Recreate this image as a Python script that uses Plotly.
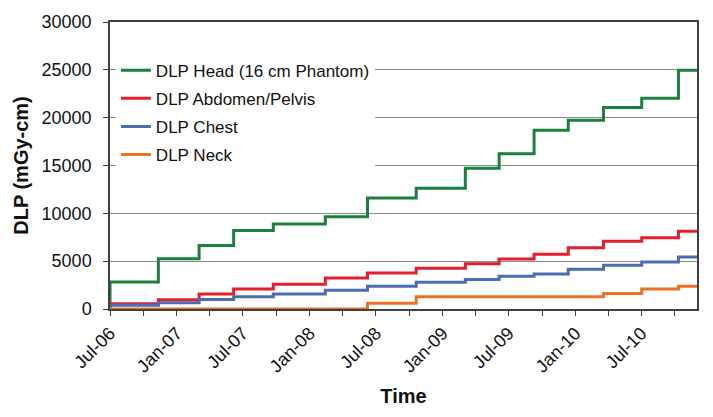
import plotly.graph_objects as go

# Step dates and cumulative DLP values per series
dates = ["2006-07-01", "2006-07-01", "2006-11-11", "2007-03-03", "2007-06-06",
         "2007-09-23", "2008-02-13", "2008-06-08", "2008-10-20", "2009-03-04",
         "2009-06-05", "2009-09-09", "2009-12-12", "2010-03-19", "2010-07-02",
         "2010-10-11", "2010-12-01"]

head = [0, 2830, 5260, 6640, 8200, 8890, 9650, 11600, 12630, 14700,
        16230, 18690, 19720, 21070, 22040, 24950, 24950]
abdomen = [0, 550, 970, 1560, 2080, 2600, 3250, 3770, 4260, 4740,
           5230, 5710, 6400, 7090, 7440, 8130, 8130]
chest = [0, 380, 660, 1000, 1280, 1560, 1970, 2390, 2800, 3080,
         3430, 3670, 4150, 4570, 4910, 5430, 5430]
neck = [0, 0, 0, 0, 0, 0, 0, 590, 1280, 1280,
        1280, 1280, 1280, 1630, 2080, 2390, 2390]

series_names = ["DLP Head (16 cm Phantom)", "DLP Abdomen/Pelvis", "DLP Chest", "DLP Neck"]
series_values = [head, abdomen, chest, neck]
series_colors = ["#1b7f3e", "#e31f2b", "#4a6cb3", "#ee7024"]

y_tickvals = [0, 5000, 10000, 15000, 20000, 25000, 30000]

font_family = "Liberation Sans, Arial, sans-serif"

fig = go.Figure()
for name, vals, col in zip(series_names, series_values, series_colors):
    fig.add_trace(go.Scatter(
        x=dates, y=vals, name=name, mode="lines",
        line=dict(color=col, width=3, shape="hv"),
        legendgroup=name,
    ))

fig.update_layout(
    width=713, height=417,
    margin=dict(l=110, r=16, t=20, b=108),
    paper_bgcolor="white", plot_bgcolor="white",
    font=dict(family=font_family, color="#111111", size=17),
    showlegend=True,
    legend=dict(
        x=0.010, y=0.893, xanchor="left", yanchor="top",
        bgcolor="white", borderwidth=0,
        font=dict(size=17, family=font_family, color="#111111"),
        tracegroupgap=3,
    ),
)

fig.update_xaxes(
    type="date",
    range=["2006-07-01", "2010-12-01"],
    tick0="2006-07-01", dtick="M6", tickformat="%b-%y",
    tickangle=-45,
    ticks="outside", ticklen=5, tickcolor="#404040",
    tickfont=dict(size=18),
    minor=dict(dtick="M3", ticks="outside", ticklen=5, tickcolor="#404040", showgrid=False),
    showgrid=False,
    showline=True, linecolor="#404040", linewidth=1.5, mirror=True,
    title=dict(text="<b>Time</b>", font=dict(size=20), standoff=14),
)

fig.update_yaxes(
    range=[0, 30000],
    tickvals=y_tickvals, tickformat="d",
    ticks="outside", ticklen=5, tickcolor="#404040",
    tickfont=dict(size=18),
    ticklabelstandoff=8,
    showgrid=True, gridcolor="#8c8c8c", gridwidth=1,
    zeroline=False,
    showline=True, linecolor="#404040", linewidth=1.5, mirror=True,
    title=dict(text="<b>DLP (mGy-cm)</b>", font=dict(size=20), standoff=8),
)

fig.write_html(
    "out.html",
    config={"displayModeBar": False},
    post_script="document.body.style.margin='0';document.body.style.padding='0';",
)
